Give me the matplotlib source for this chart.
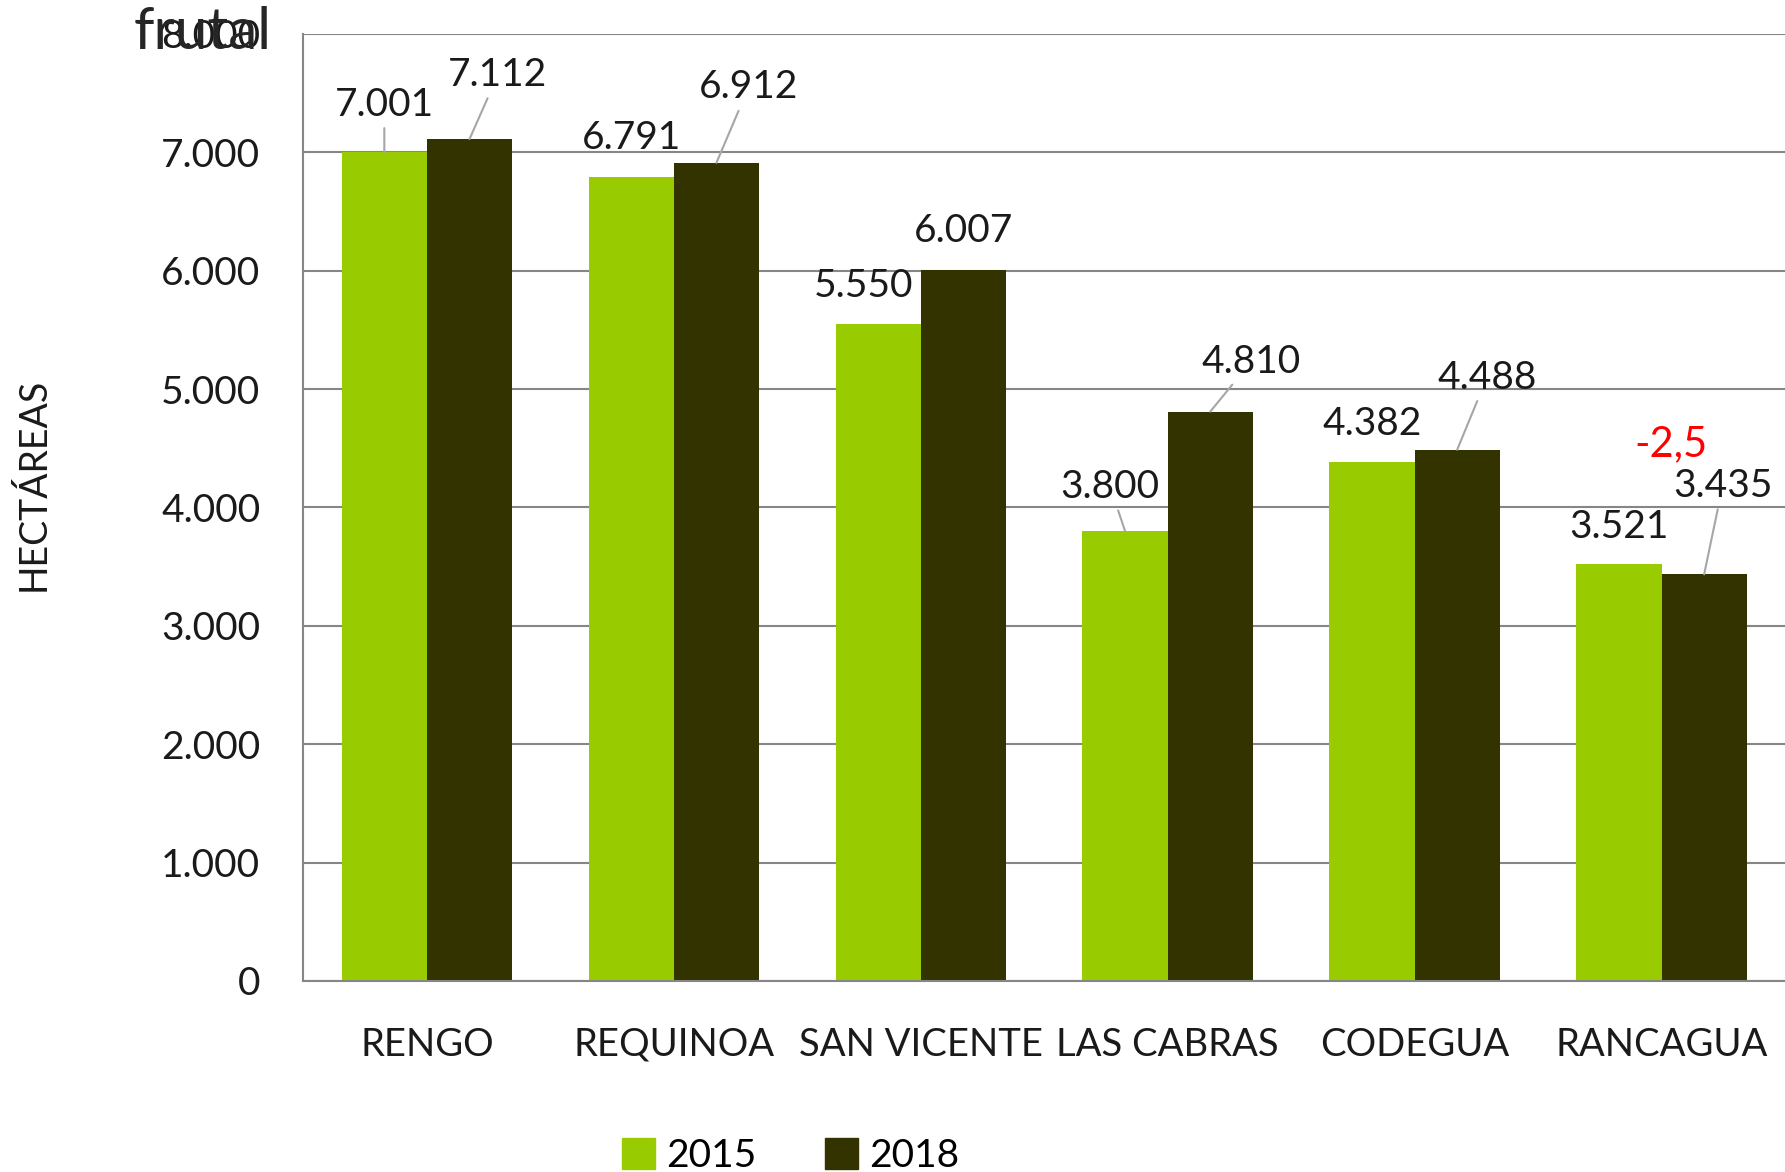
import matplotlib.pyplot as plt
from matplotlib.patches import Patch

plt.rcParams["font.family"] = ["Lato", "DejaVu Sans"]

# Data
comunas = ["RENGO", "REQUINOA", "SAN VICENTE", "LAS CABRAS", "CODEGUA", "RANCAGUA"]
ha_2015 = [7001, 6791, 5550, 3800, 4382, 3521]
ha_2018 = [7112, 6912, 6007, 4810, 4488, 3435]
labels_2015 = ["7.001", "6.791", "5.550", "3.800", "4.382", "3.521"]
labels_2018 = ["7.112", "6.912", "6.007", "4.810", "4.488", "3.435"]
yticks = [0, 1000, 2000, 3000, 4000, 5000, 6000, 7000, 8000]
ytick_labels = ["0", "1.000", "2.000", "3.000", "4.000", "5.000", "6.000", "7.000", "8.000"]

# label placement (x offset from bar centre, y in data units, draw leader line?)
pos_2015 = [(0.0, 7404, True), (0.0, 7125, False), (-0.06, 5875, False),
            (-0.06, 4173, True), (0.0, 4702, False), (0.0, 3836, False)]
pos_2018 = [(0.115, 7654, True), (0.13, 7548, True), (0.0, 6336, False),
            (0.165, 5231, True), (0.12, 5096, True), (0.075, 4183, True)]

GREEN = "#99cc00"
DARK = "#333300"
GRID = "#868686"
TXT = "#1a1a1a"

fig = plt.figure(figsize=(17.85, 11.72), dpi=100)
ax = fig.add_axes([0.170, 0.163, 0.830, 0.808])

w = 0.345
x = list(range(len(comunas)))
ax.bar([i - w / 2 for i in x], ha_2015, width=w, color=GREEN, zorder=3)
ax.bar([i + w / 2 for i in x], ha_2018, width=w, color=DARK, zorder=3)

ax.set_xlim(-0.5, 5.5)
ax.set_ylim(0, 8000)
ax.set_yticks(yticks)
ax.set_yticklabels(ytick_labels)
ax.set_xticks(x)
ax.set_xticklabels(comunas)
ax.tick_params(axis="both", length=0, labelsize=28, colors=TXT)
ax.tick_params(axis="x", labelsize=27.5, pad=33)
ax.tick_params(axis="y", pad=31)

ax.grid(axis="y", color=GRID, linewidth=1.5, zorder=0)
ax.set_axisbelow(True)
for s in ["top", "right"]:
    ax.spines[s].set_visible(False)
for s in ["left", "bottom"]:
    ax.spines[s].set_color(GRID)
    ax.spines[s].set_linewidth(1.5)
ax.spines["bottom"].set_zorder(4)


def put_labels(centres, values, texts, positions):
    for cx, v, t, (dx, ty, line) in zip(centres, values, texts, positions):
        props = None
        if line:
            props = dict(arrowstyle="-", color="#a6a6a6", lw=1.5,
                         shrinkA=2, shrinkB=0)
        ax.annotate(t, xy=(cx, v), xytext=(cx + dx, ty), ha="center",
                    va="center", fontsize=28, color=TXT,
                    arrowprops=props, zorder=5)


put_labels([i - w / 2 for i in x], ha_2015, labels_2015, pos_2015)
put_labels([i + w / 2 for i in x], ha_2018, labels_2018, pos_2018)

# variation note
ax.text(5.04, 4538, "-2,5", color="red", fontsize=30, ha="center", va="center")

# texts
fig.text(0.019, 0.587, "HECTÁREAS", rotation=90, fontsize=27,
         ha="center", va="center", color=TXT)
fig.text(0.075, 0.972, "frutal", fontsize=42, ha="left", va="center",
         color="#262626")

handles = [Patch(color=GREEN, label="2015"), Patch(color=DARK, label="2018")]
fig.legend(handles=handles, loc="center", bbox_to_anchor=(0.443, 0.014),
           ncol=2, frameon=False, fontsize=28, handlelength=0.85,
           handleheight=0.85, columnspacing=1.75, handletextpad=0.3)

fig.savefig("out.png", dpi=100)
